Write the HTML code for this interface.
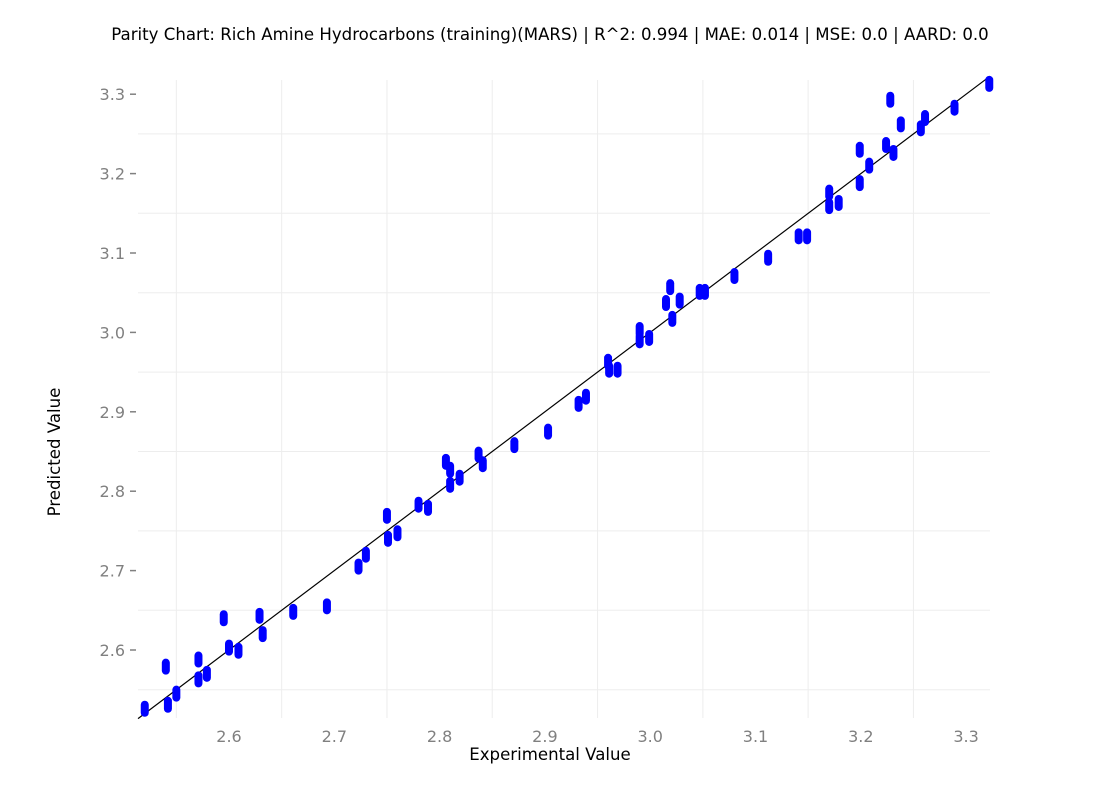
<!DOCTYPE html>
<html><head><meta charset="utf-8"><style>
body{margin:0;background:#fff;font-family:"Liberation Sans","DejaVu Sans",sans-serif}
</style></head><body>
<svg id="chart" width="1100" height="800" xmlns="http://www.w3.org/2000/svg" font-family="DejaVu Sans, Liberation Sans, sans-serif">
<rect width="1100" height="800" fill="#fff"/>
<text x="550" y="40" text-anchor="middle" font-size="16.6" fill="#000">Parity Chart: Rich Amine Hydrocarbons (training)(MARS) | R^2: 0.994 | MAE: 0.014 | MSE: 0.0 | AARD: 0.0</text>
<text x="550" y="760" text-anchor="middle" font-size="16.6" fill="#000">Experimental Value</text>
<text x="60" y="452" text-anchor="middle" font-size="16.6" fill="#000" transform="rotate(-90 60 452)">Predicted Value</text>
<g id="grid"></g><g id="axes"></g><g id="marks"></g>
</svg>
<script>
const expX=[2.520,2.540,2.542,2.550,2.571,2.571,2.579,2.595,2.600,2.609,2.629,2.632,2.661,2.693,2.723,2.730,2.750,2.751,2.760,2.780,2.789,2.806,2.810,2.810,2.819,2.837,2.841,2.871,2.903,2.932,2.939,2.960,2.961,2.969,2.990,2.990,2.999,3.015,3.019,3.021,3.028,3.047,3.052,3.080,3.112,3.141,3.149,3.170,3.170,3.179,3.199,3.199,3.208,3.224,3.228,3.231,3.238,3.257,3.261,3.289,3.322];
const predY=[2.526,2.579,2.531,2.545,2.588,2.563,2.570,2.640,2.603,2.599,2.643,2.620,2.648,2.655,2.705,2.720,2.769,2.740,2.747,2.783,2.779,2.837,2.827,2.808,2.817,2.846,2.834,2.858,2.875,2.910,2.919,2.963,2.953,2.953,3.003,2.990,2.993,3.037,3.057,3.017,3.040,3.051,3.051,3.071,3.094,3.121,3.121,3.176,3.159,3.163,3.230,3.188,3.210,3.236,3.293,3.226,3.262,3.257,3.270,3.283,3.313];
const xTicks=[2.6,2.7,2.8,2.9,3.0,3.1,3.2,3.3];
const yTicks=[2.6,2.7,2.8,2.9,3.0,3.1,3.2,3.3];
const xMinor=[2.55,2.65,2.75,2.85,2.95,3.05,3.15,3.25];
const yMinor=[2.55,2.65,2.75,2.85,2.95,3.05,3.15,3.25];
const L=138,R=990,T=80,B=718;
const sx=v=>229+(v-2.6)*1053;
const sy=v=>650-(v-2.6)*794;
const NS='http://www.w3.org/2000/svg';
function mk(tag,attrs,parent){const e=document.createElementNS(NS,tag);for(const k in attrs)e.setAttribute(k,attrs[k]);parent.appendChild(e);return e;}
const grid=document.getElementById('grid'),axes=document.getElementById('axes'),marks=document.getElementById('marks');
xMinor.forEach(v=>{const l=mk('line',{x1:sx(v),x2:sx(v),y1:T,y2:B,stroke:'#ededed','stroke-width':1},grid);

});
yMinor.forEach(v=>{const l=mk('line',{x1:L,x2:R,y1:sy(v),y2:sy(v),stroke:'#ededed','stroke-width':1},grid);

});
xTicks.forEach(v=>{const t=mk('text',{x:sx(v),y:742,'text-anchor':'middle','font-size':16,fill:'#808080'},axes);t.textContent=v.toFixed(1);

});
yTicks.forEach(v=>{const t=mk('text',{x:125,y:sy(v)+6,'text-anchor':'end','font-size':16,fill:'#808080'},axes);t.textContent=v.toFixed(1);


const k=mk('line',{x1:130,x2:136,y1:sy(v),y2:sy(v),stroke:'#808080','stroke-width':1.5},axes);

});
const lo=2.5136,hi=3.3227;
const idl=mk('line',{x1:sx(lo),y1:sy(lo),x2:sx(hi),y2:sy(hi),stroke:'#000','stroke-width':1.2},marks);


expX.forEach((x,i)=>{const p=mk('line',{x1:sx(x),x2:sx(x),y1:sy(predY[i])-4,y2:sy(predY[i])+4,stroke:'#0000ff','stroke-width':8,'stroke-linecap':'round'},marks);

});
</script>
</body></html>
